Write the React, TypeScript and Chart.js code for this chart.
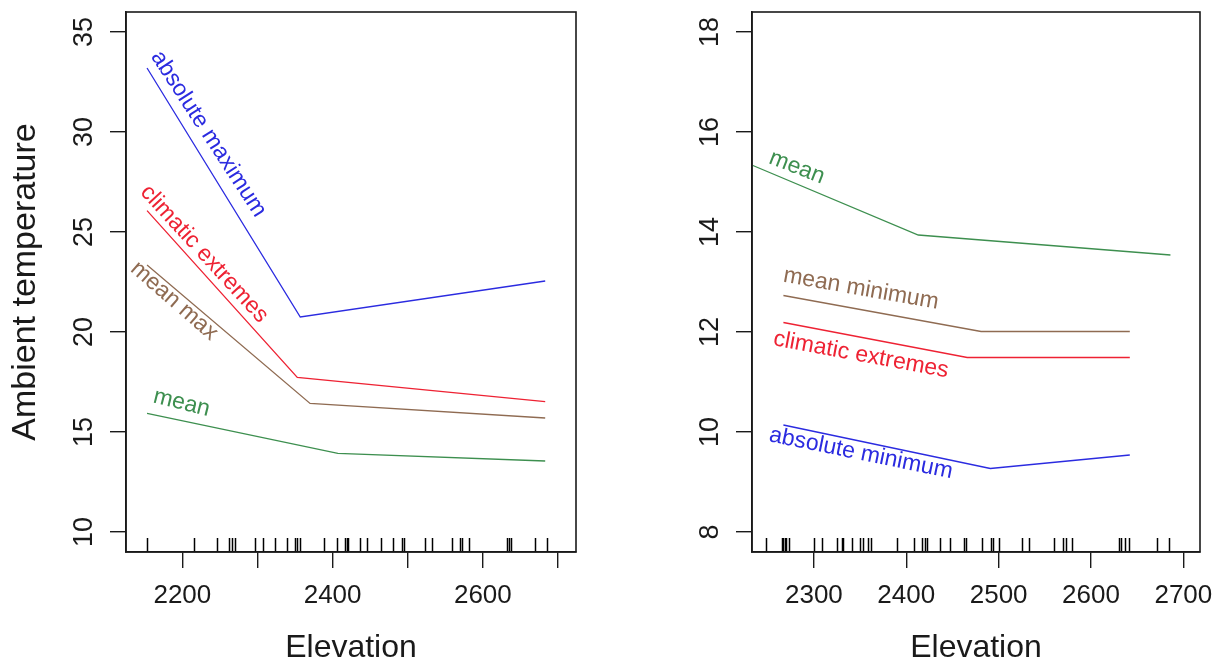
import React, { useEffect, useRef } from "react";
import { Chart, registerables } from "chart.js";

Chart.register(...registerables);

const FONT = '"Liberation Sans", Arial, Helvetica, sans-serif';
const INK = "#1a1a1a";
const BLUE = "#2b2be0";
const RED = "#ee2233";
const BROWN = "#8f6b52";
const GREEN = "#3d8f4f";

// ---------- Left panel data ----------
const leftAbsMaxX = [2153, 2357, 2683];
const leftAbsMaxY = [33.2, 20.75, 22.55];
const leftClimaticX = [2153, 2353, 2683];
const leftClimaticY = [26.07, 17.73, 16.52];
const leftMeanMaxX = [2153, 2370, 2683];
const leftMeanMaxY = [23.35, 16.43, 15.7];
const leftMeanX = [2153, 2407, 2683];
const leftMeanY = [15.93, 13.93, 13.55];
const leftRug = [
  2153, 2216, 2246, 2262, 2266, 2270, 2297, 2308, 2324, 2339, 2350, 2352, 2357,
  2389, 2406, 2417, 2419, 2421, 2436, 2446, 2465, 2480, 2492, 2495, 2523, 2532,
  2559, 2570, 2572, 2581, 2632, 2635, 2638, 2669, 2685,
];
const leftXTicks = [2200, 2300, 2400, 2500, 2600, 2700];
const leftXTickLabels = [2200, 2400, 2600];
const leftYTicks = [10, 15, 20, 25, 30, 35];

// ---------- Right panel data ----------
const rightMeanX = [2234, 2413, 2686];
const rightMeanY = [15.33, 13.94, 13.54];
const rightMeanMinX = [2267, 2481, 2642];
const rightMeanMinY = [12.73, 12.01, 12.01];
const rightClimaticX = [2267, 2466, 2642];
const rightClimaticY = [12.19, 11.49, 11.49];
const rightAbsMinX = [2267, 2491, 2642];
const rightAbsMinY = [10.14, 9.27, 9.54];
const rightRug = [
  2248, 2265, 2267, 2269, 2270, 2273, 2300, 2309, 2325, 2330, 2332, 2341, 2350,
  2353, 2359, 2362, 2390, 2408, 2417, 2420, 2422, 2437, 2447, 2463, 2465, 2482,
  2492, 2494, 2500, 2525, 2533, 2560, 2570, 2573, 2579, 2630, 2633, 2637, 2641,
  2671, 2684,
];
const rightXTicks = [2300, 2400, 2500, 2600, 2700];
const rightXTickLabels = [2300, 2400, 2500, 2600, 2700];
const rightYTicks = [8, 10, 12, 14, 16, 18];

// ---------- Panel settings (layout / style) ----------
const leftPanel = {
  series: [
    { label: "absolute maximum", xs: leftAbsMaxX, ys: leftAbsMaxY, color: BLUE },
    { label: "climatic extremes", xs: leftClimaticX, ys: leftClimaticY, color: RED },
    { label: "mean max", xs: leftMeanMaxX, ys: leftMeanMaxY, color: BROWN },
    { label: "mean", xs: leftMeanX, ys: leftMeanY, color: GREEN },
  ],
  rug: leftRug,
  xMin: 2125,
  xMax: 2724,
  yMin: 9,
  yMax: 36,
  xTicks: leftXTicks,
  yTicks: leftYTicks,
  xLabelled: leftXTickLabels,
  yTitle: "Ambient temperature",
  yWidth: 126,
  padRight: 36,
  labels: [
    { text: "absolute maximum", x: 2234.6, y: 29.9, angle: 57, color: BLUE },
    { text: "climatic extremes", x: 2229, y: 23.9, angle: 47.5, color: RED },
    { text: "mean max", x: 2189, y: 21.55, angle: 41, color: BROWN },
    { text: "mean", x: 2199, y: 16.45, angle: 14, color: GREEN },
  ],
};

const rightPanel = {
  series: [
    { label: "mean", xs: rightMeanX, ys: rightMeanY, color: GREEN },
    { label: "mean minimum", xs: rightMeanMinX, ys: rightMeanMinY, color: BROWN },
    { label: "climatic extremes", xs: rightClimaticX, ys: rightClimaticY, color: RED },
    { label: "absolute minimum", xs: rightAbsMinX, ys: rightAbsMinY, color: BLUE },
  ],
  rug: rightRug,
  xMin: 2233,
  xMax: 2718,
  yMin: 7.6,
  yMax: 18.4,
  xTicks: rightXTicks,
  yTicks: rightYTicks,
  xLabelled: rightXTickLabels,
  yTitle: "",
  yWidth: 140,
  padRight: 24,
  labels: [
    { text: "mean", x: 2281.6, y: 15.29, angle: 21, color: GREEN },
    { text: "mean minimum", x: 2351, y: 12.86, angle: 10, color: BROWN },
    { text: "climatic extremes", x: 2351, y: 11.54, angle: 10.5, color: RED },
    { text: "absolute minimum", x: 2351, y: 9.57, angle: 11.5, color: BLUE },
  ],
};

type PanelCfg = typeof leftPanel;

function makeDecor(cfg: PanelCfg) {
  return {
    id: "panelDecor",
    afterDatasetsDraw(chart: any) {
      const { ctx, chartArea: a, scales } = chart;
      const xs = scales.x;
      const ys = scales.y;
      ctx.save();
      // rug
      ctx.strokeStyle = "#000";
      ctx.lineWidth = 1.5;
      for (const r of cfg.rug) {
        const px = Math.round(xs.getPixelForValue(r)) + 0.5;
        ctx.beginPath();
        ctx.moveTo(px, a.bottom);
        ctx.lineTo(px, a.bottom - 14);
        ctx.stroke();
      }
      // in-plot labels
      ctx.font = `23px ${FONT}`;
      ctx.textAlign = "center";
      ctx.textBaseline = "middle";
      for (const l of cfg.labels) {
        const px = xs.getPixelForValue(l.x);
        const py = ys.getPixelForValue(l.y);
        ctx.save();
        ctx.translate(px, py);
        ctx.rotate((l.angle * Math.PI) / 180);
        ctx.fillStyle = l.color;
        ctx.fillText(l.text, 0, 0);
        ctx.restore();
      }
      // box
      ctx.strokeStyle = INK;
      ctx.lineWidth = 1.6;
      ctx.strokeRect(a.left, a.top, a.right - a.left, a.bottom - a.top);
      ctx.restore();
    },
  };
}

function Panel({ cfg }: { cfg: PanelCfg }) {
  const ref = useRef<HTMLCanvasElement | null>(null);
  useEffect(() => {
    if (!ref.current) return;
    const chart = new Chart(ref.current, {
      type: "scatter",
      data: {
        datasets: cfg.series.map((s) => ({
          label: s.label,
          data: s.xs.map((x, i) => ({ x, y: s.ys[i] })),
          showLine: true,
          borderColor: s.color,
          backgroundColor: s.color,
          borderWidth: 1.3,
          pointRadius: 0,
          fill: false,
          tension: 0,
        })),
      },
      options: {
        animation: false,
        responsive: false,
        events: [],
        layout: { padding: { left: 0, top: 12, right: cfg.padRight, bottom: 0 } },
        plugins: { legend: { display: false }, tooltip: { enabled: false } },
        scales: {
          x: {
            type: "linear",
            min: cfg.xMin,
            max: cfg.xMax,
            afterBuildTicks: (s: any) => {
              s.ticks = cfg.xTicks.map((v) => ({ value: v }));
            },
            afterFit: (s: any) => {
              s.height = 117;
              s.paddingLeft = 0;
              s.paddingRight = 0;
            },
            ticks: {
              autoSkip: false,
              maxRotation: 0,
              padding: 12,
              color: INK,
              font: { family: FONT, size: 26 },
              callback: (v: any) => (cfg.xLabelled.includes(Number(v)) ? String(v) : ""),
            },
            grid: {
              drawOnChartArea: false,
              drawTicks: true,
              tickLength: 16,
              color: INK,
              lineWidth: 1.4,
            },
            border: { display: true, color: INK, width: 1.6 },
            title: {
              display: true,
              text: "Elevation",
              color: INK,
              font: { family: FONT, size: 32 },
              padding: { top: 0, bottom: 2 },
            },
          },
          y: {
            type: "linear",
            min: cfg.yMin,
            max: cfg.yMax,
            afterBuildTicks: (s: any) => {
              s.ticks = cfg.yTicks.map((v) => ({ value: v }));
            },
            afterFit: (s: any) => {
              s.width = cfg.yWidth;
              s.paddingTop = 0;
              s.paddingBottom = 0;
            },
            ticks: {
              autoSkip: false,
              minRotation: 90,
              maxRotation: 90,
              crossAlign: "center",
              padding: 10,
              color: INK,
              font: { family: FONT, size: 27 },
            },
            grid: {
              drawOnChartArea: false,
              drawTicks: true,
              tickLength: 16,
              color: INK,
              lineWidth: 1.4,
            },
            border: { display: true, color: INK, width: 1.6 },
            title: {
              display: cfg.yTitle !== "",
              text: cfg.yTitle,
              color: INK,
              font: { family: FONT, size: 34 },
              padding: { top: 5, bottom: 0 },
            },
          },
        },
      },
      plugins: [makeDecor(cfg)],
    } as any);
    return () => chart.destroy();
  }, [cfg]);
  return (
    <canvas
      ref={ref}
      width={612}
      height={669}
      style={{ width: 612, height: 669, display: "block" }}
    />
  );
}

export default function App() {
  return (
    <div
      style={{
        position: "absolute",
        left: 0,
        top: 0,
        width: 1224,
        height: 669,
        display: "flex",
        background: "#fff",
        overflow: "hidden",
      }}
    >
      <Panel cfg={leftPanel} />
      <Panel cfg={rightPanel} />
    </div>
  );
}
